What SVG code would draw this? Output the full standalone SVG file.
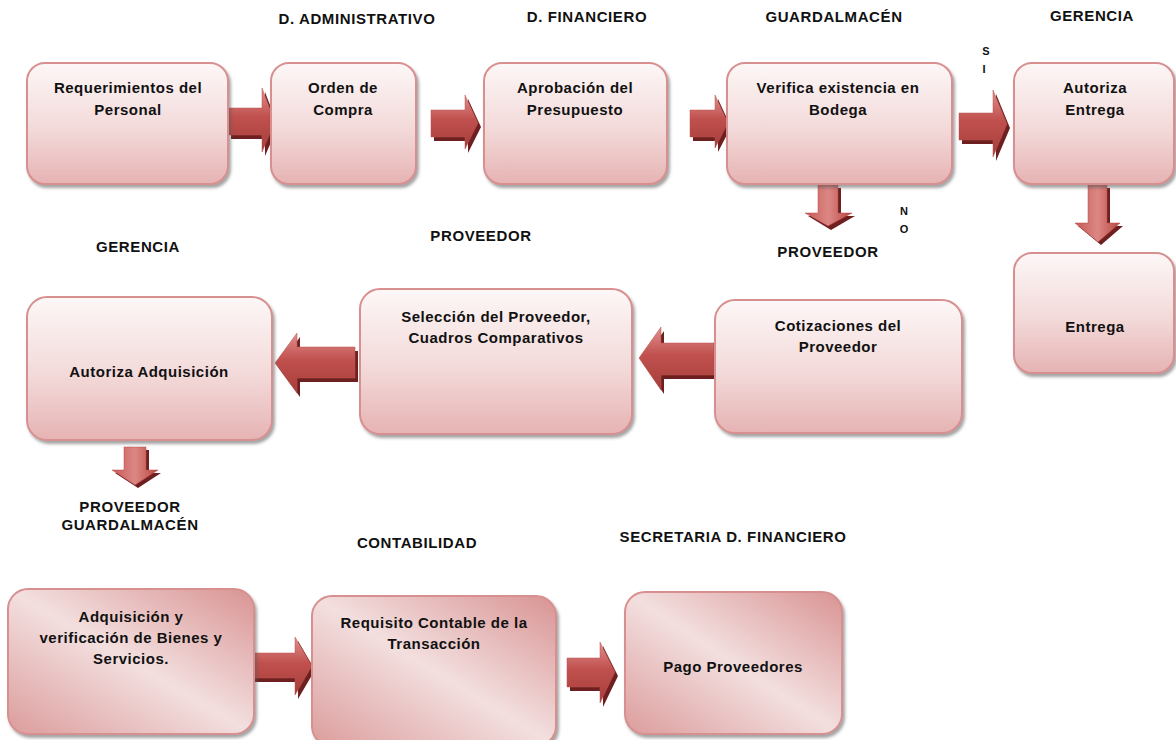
<svg xmlns="http://www.w3.org/2000/svg" width="1176" height="740" viewBox="0 0 1176 740">
  <defs>
    <linearGradient id="boxFill" x1="0" y1="0" x2="0" y2="1">
      <stop offset="0" stop-color="#fdf7f7"/>
      <stop offset="0.55" stop-color="#f3d9d9"/>
      <stop offset="1" stop-color="#e6b3b3"/>
    </linearGradient>
    <linearGradient id="boxFillDiag" x1="0" y1="1" x2="1" y2="0">
      <stop offset="0" stop-color="#dc9c9c"/>
      <stop offset="0.5" stop-color="#f3dfdf"/>
      <stop offset="1" stop-color="#d99393"/>
    </linearGradient>
    <linearGradient id="arrowH" x1="0" y1="0" x2="0" y2="1">
      <stop offset="0" stop-color="#e09090"/>
      <stop offset="0.45" stop-color="#c0504d"/>
      <stop offset="1" stop-color="#a63e3b"/>
    </linearGradient>
    <linearGradient id="arrowV" x1="0" y1="0" x2="1" y2="0">
      <stop offset="0" stop-color="#c65a57"/>
      <stop offset="0.5" stop-color="#dc8784"/>
      <stop offset="1" stop-color="#b9463f"/>
    </linearGradient>
    <filter id="boxShadow" x="-5%" y="-5%" width="112%" height="115%">
      <feDropShadow dx="2" dy="3" stdDeviation="1.5" flood-color="#5a5a5a" flood-opacity="0.55"/>
    </filter>
    <style>
      .box { fill: url(#boxFill); stroke: #d88f8f; stroke-width: 2; filter: url(#boxShadow); }
      .boxd { fill: url(#boxFillDiag); stroke: #d88f8f; stroke-width: 2; filter: url(#boxShadow); }
      .arr { fill: url(#arrowH); stroke: #b9504d; stroke-width: 0.5; }
      .arrv { fill: url(#arrowV); stroke: #b94a46; stroke-width: 0.5; }
      .shade { fill: #6e2020; }
      .t { font-family: "Liberation Sans", Arial, sans-serif; font-weight: bold; font-size: 15px; letter-spacing: 0.5px; fill: #111; text-anchor: middle; }
      .h { font-family: "Liberation Sans", Arial, sans-serif; font-weight: bold; font-size: 15px; letter-spacing: 0.6px; fill: #111; text-anchor: middle; }
      .s { font-family: "Liberation Sans", Arial, sans-serif; font-weight: bold; font-size: 11px; fill: #111; text-anchor: middle; }
    </style>
  </defs>

  <rect width="1176" height="740" fill="#ffffff"/>

  <!-- area headings -->
  <g id="headings">
    <text class="h" x="357" y="24">D. ADMINISTRATIVO</text>
    <text class="h" x="587" y="22">D. FINANCIERO</text>
    <text class="h" x="834" y="22">GUARDALMACÉN</text>
    <text class="h" x="1092" y="21">GERENCIA</text>
    <text class="h" x="138" y="252">GERENCIA</text>
    <text class="h" x="481" y="241">PROVEEDOR</text>
    <text class="h" x="828" y="257">PROVEEDOR</text>
    <text class="h" x="130" y="512">PROVEEDOR</text>
    <text class="h" x="130" y="530">GUARDALMACÉN</text>
    <text class="h" x="417" y="548">CONTABILIDAD</text>
    <text class="h" x="733" y="542">SECRETARIA D. FINANCIERO</text>
    <text class="s" x="986" y="55">S</text>
    <text class="s" x="984" y="73">I</text>
    <text class="s" x="904" y="215">N</text>
    <text class="s" x="904" y="233">O</text>
  </g>

  <!-- connectors: block arrows -->
  <g id="connectors">
    <!-- row 1 -->
    <path class="shade" d="M231,112 H265 V92 L278,126 L265,156 V139 H231 Z"/>
    <path class="arr" d="M228,108 H262 V88 L275,122 L262,152 V135 H228 Z"/>

    <path class="shade" d="M434,114 H468 V99 L481,127 L468,153 V141 H434 Z"/>
    <path class="arr" d="M431,110 H465 V95 L478,123 L465,149 V137 H431 Z"/>

    <path class="shade" d="M693,114 H718 V99 L731,127 L718,152 V141 H693 Z"/>
    <path class="arr" d="M690,110 H715 V95 L728,123 L715,148 V137 H690 Z"/>

    <path class="shade" d="M962,117 H996 V94 L1010,128 L996,161 V144 H962 Z"/>
    <path class="arr" d="M959,113 H993 V90 L1007,124 L993,157 V140 H959 Z"/>

    <!-- down arrow: no stock -->
    <path class="shade" d="M821,188 H841 V216 H855 L831,230 L808,216 H821 Z"/>
    <path class="arrv" d="M818,185 H838 V213 H852 L828,226 L805,213 H818 Z"/>

    <!-- down arrow: to delivery -->
    <path class="shade" d="M1091,188 H1110 V226 H1123 L1101,245 L1078,226 H1091 Z"/>
    <path class="arrv" d="M1088,185 H1107 V223 H1120 L1098,242 L1075,223 H1088 Z"/>

    <!-- row 2 (leftward) -->
    <path class="shade" d="M358,351 H300 V337 L278,367 L300,397 V382 H358 Z"/>
    <path class="arr" d="M355,347 H297 V333 L275,363 L297,393 V378 H355 Z"/>

    <path class="shade" d="M717,347 H664 V331 L642,362 L664,394 V379 H717 Z"/>
    <path class="arr" d="M714,343 H661 V327 L639,358 L661,390 V375 H714 Z"/>

    <!-- down arrow below Autoriza Adquisición -->
    <path class="shade" d="M127,450 H149 V473 H161 L138,488 L115,473 H127 Z"/>
    <path class="arrv" d="M124,447 H146 V470 H158 L135,485 L112,470 H124 Z"/>

    <!-- row 3 -->
    <path class="shade" d="M255,657 H298 V641 L315,670 L298,699 V682 H255 Z"/>
    <path class="arr" d="M252,653 H295 V637 L312,666 L295,695 V678 H252 Z"/>

    <path class="shade" d="M570,662 H603 V646 L618,676 L603,707 V691 H570 Z"/>
    <path class="arr" d="M567,658 H600 V642 L615,672 L600,703 V687 H567 Z"/>
  </g>

  <!-- row 1 nodes -->
  <g id="requerimientos">
    <rect class="box" x="27" y="63" width="201" height="121" rx="18"/>
    <text class="t" x="128" y="93">Requerimientos del</text>
    <text class="t" x="128" y="115">Personal</text>
  </g>
  <g id="orden-compra">
    <rect class="box" x="271" y="63" width="145" height="121" rx="18"/>
    <text class="t" x="343" y="93">Orden de</text>
    <text class="t" x="343" y="115">Compra</text>
  </g>
  <g id="aprobacion">
    <rect class="box" x="484" y="63" width="183" height="121" rx="18"/>
    <text class="t" x="575" y="93">Aprobación del</text>
    <text class="t" x="575" y="115">Presupuesto</text>
  </g>
  <g id="verifica">
    <rect class="box" x="727" y="63" width="225" height="121" rx="18"/>
    <text class="t" x="838" y="93">Verifica existencia en</text>
    <text class="t" x="838" y="115">Bodega</text>
  </g>
  <g id="autoriza-entrega">
    <rect class="box" x="1014" y="63" width="160" height="121" rx="18"/>
    <text class="t" x="1095" y="93">Autoriza</text>
    <text class="t" x="1095" y="115">Entrega</text>
  </g>
  <g id="entrega">
    <rect class="box" x="1014" y="253" width="160" height="120" rx="18"/>
    <text class="t" x="1095" y="332">Entrega</text>
  </g>

  <!-- row 2 nodes -->
  <g id="autoriza-adquisicion">
    <rect class="box" x="27" y="297" width="245" height="143" rx="20"/>
    <text class="t" x="149" y="377">Autoriza Adquisición</text>
  </g>
  <g id="seleccion">
    <rect class="box" x="360" y="289" width="272" height="145" rx="20"/>
    <text class="t" x="496" y="322">Selección del Proveedor,</text>
    <text class="t" x="496" y="343">Cuadros Comparativos</text>
  </g>
  <g id="cotizaciones">
    <rect class="box" x="715" y="300" width="247" height="133" rx="20"/>
    <text class="t" x="838" y="331">Cotizaciones del</text>
    <text class="t" x="838" y="352">Proveedor</text>
  </g>

  <!-- row 3 nodes -->
  <g id="adquisicion">
    <rect class="boxd" x="8" y="589" width="246" height="145" rx="20"/>
    <text class="t" x="131" y="622">Adquisición y</text>
    <text class="t" x="131" y="643">verificación de Bienes y</text>
    <text class="t" x="131" y="664">Servicios.</text>
  </g>
  <g id="requisito-contable">
    <rect class="boxd" x="312" y="596" width="244" height="150" rx="20"/>
    <text class="t" x="434" y="628">Requisito Contable de la</text>
    <text class="t" x="434" y="649">Transacción</text>
  </g>
  <g id="pago">
    <rect class="boxd" x="625" y="592" width="217" height="142" rx="20"/>
    <text class="t" x="733" y="672">Pago Proveedores</text>
  </g>
</svg>
